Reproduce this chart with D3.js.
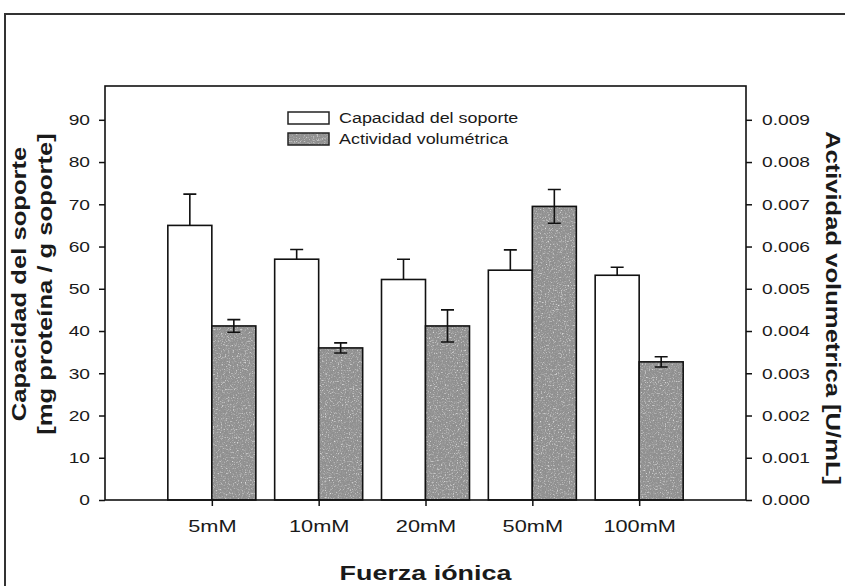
<!DOCTYPE html>
<html>
<head>
<meta charset="utf-8">
<script src="https://cdn.jsdelivr.net/npm/d3@7"></script>
<style>
body { margin: 0; background: #fff; }
svg { display: block; }
text { font-family: "Liberation Sans", Arial, sans-serif; fill: #1a1a1a; }
</style>
</head>
<body>
<svg width="845" height="586"></svg>
<script>
var categorias = ["5mM", "10mM", "20mM", "50mM", "100mM"];
var capacidad = [65.0, 57.0, 52.2, 54.4, 53.2];
var capacidadErr = [7.4, 2.3, 4.8, 4.8, 1.9];
var actividad = [0.00412, 0.0036, 0.00412, 0.00695, 0.00327];
var actividadErr = [0.00015, 0.00012, 0.00038, 0.0004, 0.00012];
var ticksIzq = [0, 10, 20, 30, 40, 50, 60, 70, 80, 90];
var ticksDer = [0, 0.001, 0.002, 0.003, 0.004, 0.005, 0.006, 0.007, 0.008, 0.009];

var svg = d3.select("svg");
var pLeft = 105, pRight = 746, pTop = 86, pBottom = 500;
var bw = 44, cap = 13;

// texto ensanchado como en el original
function widen(sel, k) {
	sel.each(function() {
		var n = this.getComputedTextLength();
		d3.select(this).attr("textLength", n * k).attr("lengthAdjust", "spacingAndGlyphs");
	});
}

// textura granulada del gris
var defs = svg.append("defs");
var f = defs.append("filter").attr("id", "grano").attr("x", 0).attr("y", 0).attr("width", 1).attr("height", 1);
f.append("feTurbulence").attr("type", "fractalNoise").attr("baseFrequency", 0.75).attr("numOctaves", 2).attr("seed", 3).attr("result", "t");
f.append("feColorMatrix").attr("in", "t").attr("type", "matrix")
	.attr("values", "0 0 0 0 0.35  0 0 0 0 0.35  0 0 0 0 0.35  3 0 0 0 -1.35").attr("result", "oscuro");
f.append("feColorMatrix").attr("in", "t").attr("type", "matrix")
	.attr("values", "0 0 0 0 0.78  0 0 0 0 0.78  0 0 0 0 0.78  0 -3 0 0 1.25").attr("result", "claro");
f.append("feMerge").attr("result", "mz").call(function(g) {
	g.append("feMergeNode").attr("in", "SourceGraphic");
	g.append("feMergeNode").attr("in", "oscuro");
	g.append("feMergeNode").attr("in", "claro");
});
f.append("feComposite").attr("in", "mz").attr("in2", "SourceGraphic").attr("operator", "in");

var x = d3.scalePoint().domain(categorias).range([pLeft, pRight]).padding(1);
var y = d3.scaleLinear().domain([0, 98]).range([pBottom, pTop]);
var y2 = d3.scaleLinear().domain([0, 0.0098]).range([pBottom, pTop]);

// marco exterior
svg.append("rect").attr("x", 5).attr("y", 14).attr("width", 900).attr("height", 700)
	.attr("fill", "none").attr("stroke", "#333").attr("stroke-width", 2);

// barras
svg.append("g").selectAll("rect").data(capacidad).enter().append("rect")
	.attr("x", function(d, i) { return x(categorias[i]) - bw; })
	.attr("y", function(d) { return y(d); })
	.attr("width", bw)
	.attr("height", function(d) { return pBottom - y(d); })
	.attr("fill", "#fff").attr("stroke", "#111").attr("stroke-width", 1.6);

svg.append("g").selectAll("rect").data(actividad).enter().append("rect")
	.attr("x", function(d, i) { return x(categorias[i]); })
	.attr("y", function(d) { return y2(d); })
	.attr("width", bw)
	.attr("height", function(d) { return pBottom - y2(d); })
	.attr("fill", "#8f8f8f").attr("filter", "url(#grano)");
svg.append("g").selectAll("rect").data(actividad).enter().append("rect")
	.attr("x", function(d, i) { return x(categorias[i]); })
	.attr("y", function(d) { return y2(d); })
	.attr("width", bw)
	.attr("height", function(d) { return pBottom - y2(d); })
	.attr("fill", "none").attr("stroke", "#111").attr("stroke-width", 1.6);

// barras de error
var eb = svg.append("g").attr("stroke", "#111").attr("stroke-width", 1.6).attr("fill", "none");
capacidad.forEach(function(d, i) {
	var cx = x(categorias[i]) - bw / 2;
	eb.append("path").attr("d", "M" + cx + "," + y(d) + "V" + y(d + capacidadErr[i])
		+ "M" + (cx - cap / 2) + "," + y(d + capacidadErr[i]) + "h" + cap);
});
actividad.forEach(function(d, i) {
	var cx = x(categorias[i]) + bw / 2;
	var a = y2(d + actividadErr[i]), b = y2(d - actividadErr[i]);
	eb.append("path").attr("d", "M" + cx + "," + a + "V" + b
		+ "M" + (cx - cap / 2) + "," + a + "h" + cap
		+ "M" + (cx - cap / 2) + "," + b + "h" + cap);
});

// ejes
svg.append("rect").attr("x", pLeft).attr("y", pTop).attr("width", pRight - pLeft).attr("height", pBottom - pTop)
	.attr("fill", "none").attr("stroke", "#111").attr("stroke-width", 1.6);

var ax = svg.append("g").attr("transform", "translate(" + pLeft + ",0)")
	.call(d3.axisLeft(y).tickValues(ticksIzq).tickSize(6).tickPadding(9));
var ax2 = svg.append("g").attr("transform", "translate(" + pRight + ",0)")
	.call(d3.axisRight(y2).tickValues(ticksDer).tickSize(6).tickPadding(10).tickFormat(d3.format(".3f")));
var axx = svg.append("g").attr("transform", "translate(0," + pBottom + ")")
	.call(d3.axisBottom(x).tickSize(6).tickPadding(14));

[ax, ax2, axx].forEach(function(a) {
	a.select(".domain").remove();
	a.selectAll("line").attr("stroke", "#111").attr("stroke-width", 1.5);
	a.selectAll("text").attr("fill", "#1a1a1a").style("font-family", "Liberation Sans, Arial, sans-serif");
});
ax.selectAll("text").style("font-size", "15px");
ax2.selectAll("text").style("font-size", "15px");
axx.selectAll("text").style("font-size", "17px");
widen(ax.selectAll("text"), 1.28);
widen(ax2.selectAll("text"), 1.28);
widen(axx.selectAll("text"), 1.28);

// titulos
var t1 = svg.append("text").attr("transform", "translate(26,284) rotate(-90)")
	.attr("text-anchor", "middle").style("font-size", "20px").style("font-weight", "bold")
	.text("Capacidad del soporte");
var t2 = svg.append("text").attr("transform", "translate(52,284) rotate(-90)")
	.attr("text-anchor", "middle").style("font-size", "20px").style("font-weight", "bold")
	.text("[mg proteína / g soporte]");
var t3 = svg.append("text").attr("transform", "translate(826,308) rotate(90)")
	.attr("text-anchor", "middle").style("font-size", "20px").style("font-weight", "bold")
	.text("Actividad volumetrica [U/mL]");
var t4 = svg.append("text").attr("x", (pLeft + pRight) / 2).attr("y", 580)
	.attr("text-anchor", "middle").style("font-size", "21px").style("font-weight", "bold")
	.text("Fuerza iónica");
[t1, t2, t3, t4].forEach(function(t) { widen(t, 1.28); });

// leyenda
var leyenda = [["Capacidad del soporte", "#fff", null], ["Actividad volumétrica", "#8f8f8f", "url(#grano)"]];
var lg = svg.append("g").attr("transform", "translate(288,112)");
leyenda.forEach(function(d, i) {
	lg.append("rect").attr("x", 0).attr("y", i * 21).attr("width", 41).attr("height", 12)
		.attr("fill", d[1]).attr("filter", d[2]);
	lg.append("rect").attr("x", 0).attr("y", i * 21).attr("width", 41).attr("height", 12)
		.attr("fill", "none").attr("stroke", "#222").attr("stroke-width", 1.5);
	var t = lg.append("text").attr("x", 51).attr("y", i * 21 + 11).style("font-size", "14px").text(d[0]);
	widen(t, 1.28);
});
</script>
</body>
</html>
